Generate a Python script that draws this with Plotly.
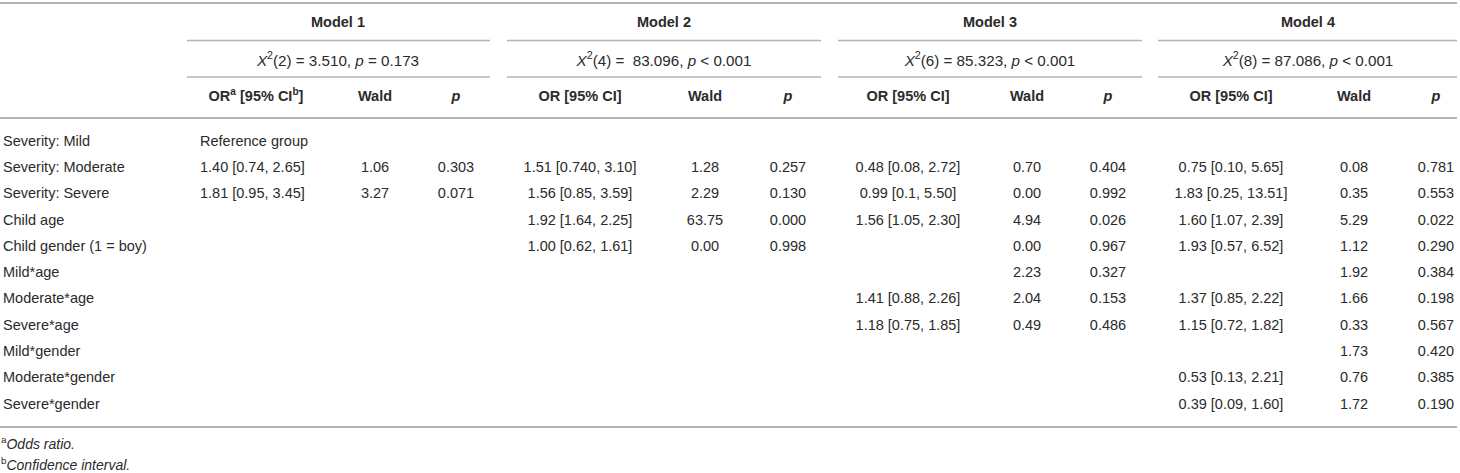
import plotly.graph_objects as go

# ---- table content ----
row_labels = ["Severity: Mild", "Severity: Moderate", "Severity: Severe", "Child age",
              "Child gender (1 = boy)", "Mild*age", "Moderate*age", "Severe*age",
              "Mild*gender", "Moderate*gender", "Severe*gender"]

models = ["Model 1", "Model 2", "Model 3", "Model 4"]
chi_df = [2, 4, 6, 8]
chi_val = ["3.510", " 83.096", "85.323", "87.086"]
chi_p = ["= 0.173", "&lt; 0.001", "&lt; 0.001", "&lt; 0.001"]

or_m1 = ["Reference group", "1.40 [0.74, 2.65]", "1.81 [0.95, 3.45]", "", "", "", "", "", "", "", ""]
wald_m1 = ["", "1.06", "3.27", "", "", "", "", "", "", "", ""]
p_m1 = ["", "0.303", "0.071", "", "", "", "", "", "", "", ""]

or_m2 = ["", "1.51 [0.740, 3.10]", "1.56 [0.85, 3.59]", "1.92 [1.64, 2.25]", "1.00 [0.62, 1.61]",
         "", "", "", "", "", ""]
wald_m2 = ["", "1.28", "2.29", "63.75", "0.00", "", "", "", "", "", ""]
p_m2 = ["", "0.257", "0.130", "0.000", "0.998", "", "", "", "", "", ""]

or_m3 = ["", "0.48 [0.08, 2.72]", "0.99 [0.1, 5.50]", "1.56 [1.05, 2.30]", "", "",
         "1.41 [0.88, 2.26]", "1.18 [0.75, 1.85]", "", "", ""]
wald_m3 = ["", "0.70", "0.00", "4.94", "0.00", "2.23", "2.04", "0.49", "", "", ""]
p_m3 = ["", "0.404", "0.992", "0.026", "0.967", "0.327", "0.153", "0.486", "", "", ""]

or_m4 = ["", "0.75 [0.10, 5.65]", "1.83 [0.25, 13.51]", "1.60 [1.07, 2.39]", "1.93 [0.57, 6.52]", "",
         "1.37 [0.85, 2.22]", "1.15 [0.72, 1.82]", "", "0.53 [0.13, 2.21]", "0.39 [0.09, 1.60]"]
wald_m4 = ["", "0.08", "0.35", "5.29", "1.12", "1.92", "1.66", "0.33", "1.73", "0.76", "1.72"]
p_m4 = ["", "0.781", "0.553", "0.022", "0.290", "0.384", "0.198", "0.567", "0.420", "0.385", "0.190"]

footnotes = ["<sup>a</sup><i>Odds ratio.</i>", "<sup>b</sup><i>Confidence interval.</i>"]

# ---- layout constants (pixels) ----
W, H = 1460, 473
FONT = "Liberation Sans, Arial, Helvetica, sans-serif"
FS = 14.5
TXT = "#2b2b2b"
RULE = "#b4b4b4"

model_x = [338, 664, 990, 1308]
model_span = [(187, 490), (507, 821), (838, 1142), (1158, 1457)]
col_or = [256, 580, 908, 1231]
col_wald = [375, 705, 1027, 1354]
col_p = [456, 788, 1108, 1436]

y_model, y_chi, y_head = 23, 62, 97
y_row0, row_h = 142, 26.3
row_y = [y_row0 + i * row_h for i in range(len(row_labels))]

fig = go.Figure()


def add_text(xs, ys, texts, pos="middle center", bold=False, size=FS):
    # drop empty cells so no blank text nodes are drawn
    cells = [(x, y, t) for x, y, t in zip(xs, ys, texts) if t]
    if not cells:
        return
    xs, ys, texts = zip(*cells)
    if bold:
        texts = ["<b>%s</b>" % t for t in texts]
    fig.add_trace(go.Scatter(
        x=list(xs), y=list(ys), text=list(texts), mode="text", textposition=pos,
        textfont=dict(family=FONT, size=size, color=TXT),
        hoverinfo="skip", showlegend=False, cliponaxis=False))


# header rows
add_text(model_x, [y_model] * 4, models, bold=True)
chi_txt = ["<i>X</i><sup>2</sup>(%d) = %s, <i>p</i> %s" % (d, v, p)
           for d, v, p in zip(chi_df, chi_val, chi_p)]
add_text(model_x, [y_chi] * 4, chi_txt, size=15.2)
or_head = ["OR<sup>a</sup> [95% CI<sup>b</sup>]"] + ["OR [95% CI]"] * 3
add_text(col_or, [y_head] * 4, or_head, bold=True)
add_text(col_wald, [y_head] * 4, ["Wald"] * 4, bold=True)
add_text(col_p, [y_head] * 4, ["<i>p</i>"] * 4, bold=True)

# body
add_text([3] * len(row_labels), row_y, row_labels, pos="middle right")
for i, (o, w, p) in enumerate([(or_m1, wald_m1, p_m1), (or_m2, wald_m2, p_m2),
                               (or_m3, wald_m3, p_m3), (or_m4, wald_m4, p_m4)]):
    if i == 0:
        # model 1 OR column starts flush with "Reference group"
        add_text([200] * len(o), row_y, o, pos="middle right")
    else:
        add_text([col_or[i]] * len(o), row_y, o)
    add_text([col_wald[i]] * len(w), row_y, w)
    add_text([col_p[i]] * len(p), row_y, p)

# footnotes
add_text([1, 1], [445, 466], footnotes, pos="middle right", size=14)

# rules
shapes = [dict(type="line", x0=0, x1=1457, y0=3, y1=3, line=dict(color=RULE, width=2)),
          dict(type="line", x0=0, x1=1457, y0=118, y1=118, line=dict(color=RULE, width=2)),
          dict(type="line", x0=0, x1=1457, y0=427, y1=427, line=dict(color=RULE, width=2))]
for a, b in model_span:
    for yy in (40.5, 77):
        shapes.append(dict(type="line", x0=a, x1=b, y0=yy, y1=yy, line=dict(color=RULE, width=1.5)))

fig.update_layout(
    width=W, height=H, margin=dict(l=0, r=0, t=0, b=0),
    paper_bgcolor="white", plot_bgcolor="white",
    xaxis=dict(range=[0, W], visible=False, fixedrange=True),
    yaxis=dict(range=[H, 0], visible=False, fixedrange=True),
    shapes=shapes, showlegend=False)

fig.write_html("out.html", config={"displayModeBar": False},
               post_script="document.body.style.margin='0';document.body.style.overflow='hidden';")
